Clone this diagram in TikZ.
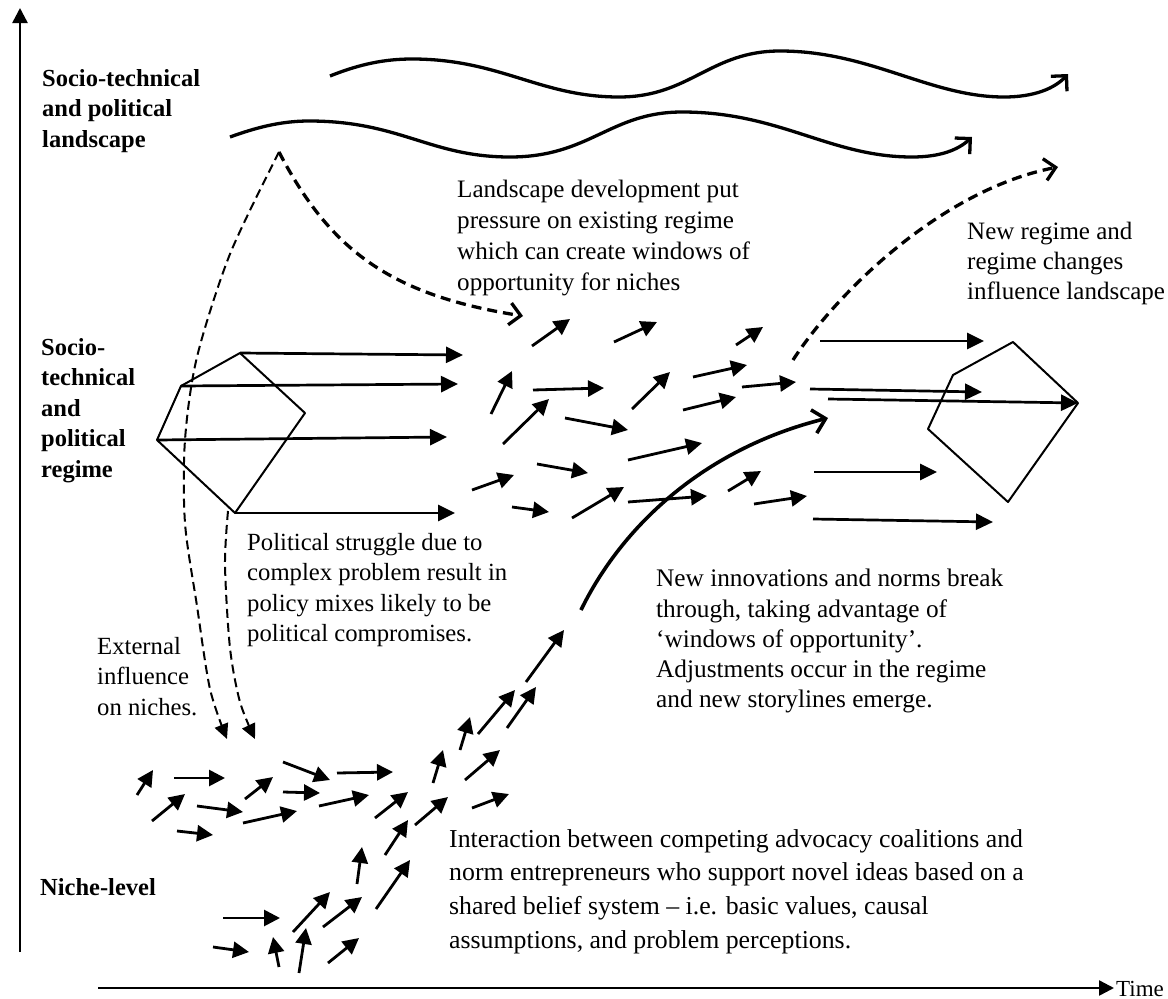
\documentclass[tikz,border=0pt]{standalone}
\usepackage{fontspec}
\setmainfont{Liberation Serif}
\usetikzlibrary{arrows.meta}

\begin{document}
\begin{tikzpicture}[x=1pt, y=-1pt,
  arr/.style={line width=2.8pt, -{Triangle[length=16pt,width=16pt]}},
  longarr/.style={line width=2.7pt, -{Triangle[length=17pt,width=16pt]}},
  axis/.style={line width=2.5pt, -{Triangle[length=15pt,width=15pt]}},
  wave/.style={line width=3.3pt, -{Straight Barb[length=11pt,width=22pt,line width=3.3pt]}},
  poly/.style={line width=2pt, line join=round},
  thindash/.style={line width=2pt, dash pattern=on 9pt off 5pt},
  thickdash/.style={line width=3.3pt, dash pattern=on 10pt off 6pt},
  openhead/.style={-{Straight Barb[length=11pt,width=22pt,line width=3.3pt]}},
  dashhead/.style={-{Triangle[length=15pt,width=14pt]}},
  txt/.style={anchor=north west, inner sep=0pt, align=left,
    font=\fontsize{24.7}{30.5}\selectfont},
  lbl/.style={anchor=north west, inner sep=0pt, align=left,
    font=\fontsize{24.5}{30.5}\selectfont\bfseries}]
\useasboundingbox (0,0) rectangle (1168,999);

% axes
\coordinate (ytop) at (20,8);
\coordinate (xend) at (1114,988);
\draw[axis] (20,952) -- (ytop);
\draw[axis] (98,988) -- (xend);
\node[anchor=base west, inner sep=0pt, font=\fontsize{23}{28}\selectfont] (time) at (1116,996) {Time};

% level labels
\node[lbl] (land) at (42,69) {Socio-technical\\and political\\landscape};
\node[lbl] (reg) at (41,338) {Socio-\\technical\\and\\political\\regime};
\node[lbl] (niche) at (40,878) {Niche-level};

% landscape waves
\draw[wave] (330,76) .. controls (360,64) and (385,59) .. (412,59)
  .. controls (500,59) and (540,97) .. (619,97)
  .. controls (690,97) and (710,51) .. (780,51)
  .. controls (870,51) and (930,97) .. (1004,97)
  .. controls (1035,97) and (1055,88) .. (1068,74);
\draw[wave] (230,137) .. controls (255,128) and (280,121) .. (309,121)
  .. controls (400,121) and (430,157) .. (510,157)
  .. controls (590,157) and (610,112) .. (682,112)
  .. controls (780,112) and (830,157) .. (912,157)
  .. controls (940,157) and (958,150) .. (972,137);

% pressure from the landscape
\coordinate (apex) at (279,152);
\draw[thickdash, openhead] (apex) .. controls (330,250) and (390,295) .. (523,316);
\draw[thindash, dashhead] plot[smooth] coordinates
  {(apex) (230,254) (197,357) (185,440) (185,523) (197,606) (210,689) (227,739)};

% current regime
\coordinate (p1) at (240,353);
\coordinate (p2) at (305,413);
\coordinate (p3) at (235,513);
\coordinate (p4) at (157,440);
\coordinate (p5) at (181,386);
\draw[poly] (p1) -- (p2) -- (p3) -- (p4) -- (p5) -- cycle;
\draw[longarr] (p1) -- (463,355);
\draw[longarr] (p5) -- (458,384);
\draw[longarr] (p4) -- (447,437);
\draw[longarr] (p3) -- (455,513);
\draw[thindash, dashhead] plot[smooth] coordinates
  {(228,511) (225,565) (230,648) (240,702) (255,739)};

% regime in flux
\foreach \a/\b in {
  {(532,346)}/{(570,319)}, {(614,342)}/{(657,322)}, {(491,414)}/{(512,371)},
  {(533,390)}/{(604,388)}, {(503,444)}/{(549,399)}, {(565,418)}/{(628,430)},
  {(472,490)}/{(514,475)}, {(537,464)}/{(588,473)}, {(512,507)}/{(549,512)},
  {(572,518)}/{(624,487)}, {(632,409)}/{(670,372)}, {(628,460)}/{(702,443)},
  {(693,377)}/{(747,365)}, {(683,410)}/{(736,397)}, {(736,345)}/{(763,327)},
  {(742,387)}/{(796,382)}, {(628,502)}/{(707,496)}, {(728,491)}/{(761,471)},
  {(754,504)}/{(807,496)}}
  \draw[arr] \a -- \b;

% new regime
\coordinate (q1) at (1013,342);
\coordinate (q2) at (1078,403);
\coordinate (q3) at (1008,502);
\coordinate (q4) at (928,429);
\coordinate (q5) at (953,375);
\draw[poly] (q1) -- (q2) -- (q3) -- (q4) -- (q5) -- cycle;
\draw[longarr] (820,341) -- (984,341);
\draw[longarr] (810,389) -- (982,392);
\draw[longarr] (828,399) -- (q2);
\draw[longarr] (814,472) -- (937,472);
\draw[longarr] (813,519) -- (993,522);
\draw[thickdash, openhead] (793,360) .. controls (835,295) and (940,190) .. (1058,167);

% breakthrough
\draw[line width=3.6pt, -{Straight Barb[length=12pt,width=24pt,line width=3.6pt]}]
  (581,610) .. controls (620,530) and (700,450) .. (828,418);

% niche level
\foreach \a/\b in {
  {(137,795)}/{(153,770)}, {(174,778)}/{(225,778)}, {(152,821)}/{(185,794)},
  {(197,806)}/{(243,812)}, {(177,831)}/{(213,835)}, {(245,799)}/{(273,777)},
  {(283,762)}/{(330,780)}, {(283,792)}/{(320,793)}, {(243,823)}/{(297,811)},
  {(337,773)}/{(393,772)}, {(319,806)}/{(369,795)}, {(375,818)}/{(408,792)},
  {(433,783)}/{(443,750)}, {(415,825)}/{(448,797)}, {(385,855)}/{(408,820)},
  {(460,750)}/{(470,717)}, {(478,734)}/{(515,690)}, {(507,728)}/{(536,687)},
  {(465,780)}/{(500,750)}, {(472,808)}/{(509,794)}, {(357,884)}/{(362,847)},
  {(376,909)}/{(410,860)}, {(293,932)}/{(330,892)}, {(323,927)}/{(362,897)},
  {(223,918)}/{(280,918)}, {(213,947)}/{(249,952)}, {(279,967)}/{(273,937)},
  {(299,973)}/{(306,928)}, {(328,963)}/{(359,938)}, {(526,682)}/{(564,630)}}
  \draw[arr] \a -- \b;

% explanations
\node[txt, font=\fontsize{25.1}{31}\selectfont] (t1) at (457,180) {Landscape development put\\pressure on existing regime\\which can create windows of\\opportunity for niches};
\node[txt, font=\fontsize{25}{30}\selectfont] (t2) at (967,222) {New regime and\\regime changes\\influence landscape};
\node[txt] (t3) at (247,533) {Political struggle due to\\complex problem result in\\policy mixes likely to be\\political compromises.};
\node[txt] (t4) at (97,637) {External\\influence\\on niches.};
\node[txt, font=\fontsize{25.3}{30.3}\selectfont] (t5) at (656,569) {New innovations and norms break\\through, taking advantage of\\‘windows of opportunity’.\\Adjustments occur in the regime\\and new storylines emerge.};
\node[txt, font=\fontsize{25.8}{33.8}\selectfont] (t6) at (449,829) {Interaction between competing advocacy coalitions and\\norm entrepreneurs who support novel ideas based on a\\shared belief system – i.e. basic values, causal\\assumptions, and problem perceptions.};
\end{tikzpicture}
\end{document}
